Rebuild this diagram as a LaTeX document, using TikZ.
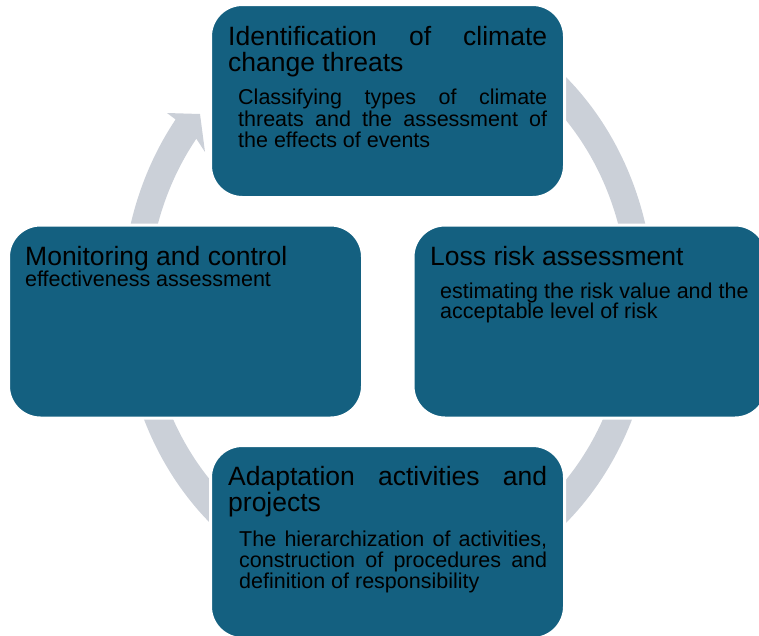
\documentclass[tikz,border=0pt]{standalone}
\usepackage{fontspec}
\setmainfont{Liberation Sans}
\definecolor{boxblue}{RGB}{20,96,128}
\definecolor{ringgray}{RGB}{203,208,216}
% a justified line of given width (pt) and a stack of lines with fixed baseline distance
\newcommand\jline[2]{\hbox to #1pt{#2}}
\newcommand\stack[2]{\vtop{\baselineskip=#1pt\lineskiplimit=-100pt #2}}

\begin{document}
\begin{tikzpicture}[x=1pt,y=-1pt,
  stage/.style={rectangle, rounded corners=32pt, fill=boxblue, draw=white,
    line width=3pt, minimum width=354pt, minimum height=193pt,
    inner sep=0pt, outer sep=0pt},
  headtext/.style={anchor=base west, inner sep=0pt, text=black,
    font=\fontsize{26.5}{26.5}\selectfont},
  subtext/.style={anchor=base west, inner sep=0pt, text=black,
    font=\fontsize{21.5}{21.5}\selectfont},
]
\useasboundingbox (0,0) rectangle (759,635);
\clip (0,0) rectangle (759,635);

% cycle arrow: elliptic band running clockwise, ending in a head at the upper left
\fill[ringgray]
  plot[domain=63:-217, samples=220] ({388+266*cos(\x)},{300-300*sin(\x)})
  -- (167,113) -- (200,114) -- (205,152)
  -- plot[domain=-217:63, samples=220] ({388+240*cos(\x)},{300-268*sin(\x)})
  -- cycle;

% the four stages
\node[stage] (top) at (387.5,101) {};
\node[stage] (left) at (185.5,321.5) {};
\node[stage] (right) at (590,321.5) {};
\node[stage] (bottom) at (387.5,542) {};

% texts
\node[headtext] (t1) at (228,45)
  {\stack{26.5}{\jline{319}{Identification of climate}\hbox{change threats}}};
\node[subtext] (s1) at (238,104.5)
  {\stack{21.5}{\jline{309}{Classifying types of climate}\jline{309}{threats and the assessment of}\hbox{the effects of events}}};

\node[headtext] (t2) at (430,265) {Loss risk assessment};
\node[subtext] (s2) at (440,298)
  {\stack{20}{\hbox{estimating the risk value and the}\hbox{acceptable level of risk}}};

\node[headtext] (t3) at (228,485)
  {\stack{26.5}{\jline{319}{Adaptation activities and}\hbox{projects}}};
\node[subtext] (s3) at (239,546.5)
  {\stack{21}{\jline{308}{The hierarchization of activities,}\jline{308}{construction of procedures and}\hbox{definition of responsibility}}};

\node[headtext] (t4) at (25,265) {Monitoring and control};
\node[subtext] (s4) at (25,286.5) {effectiveness assessment};
\end{tikzpicture}
\end{document}
